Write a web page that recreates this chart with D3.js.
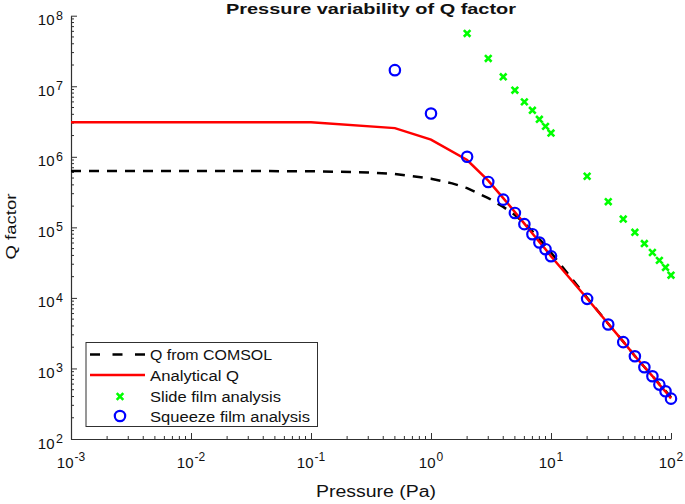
<!DOCTYPE html>
<html><head><meta charset="utf-8">
<script src="https://cdn.jsdelivr.net/npm/d3@7"></script>
<style>body{margin:0;background:#fff}svg{display:block}text{font-family:"Liberation Sans",Arial,sans-serif}</style>
</head><body><svg id="c" width="685" height="504"></svg>
<script>
const title = "Pressure variability of Q factor";
const xLabel = "Pressure (Pa)";
const yLabel = "Q factor";
const xTickExps = [-3, -2, -1, 0, 1, 2];
const yTickExps = [2, 3, 4, 5, 6, 7, 8];
const seriesNames = ["Q from COMSOL", "Analytical Q", "Slide film analysis", "Squeeze film analysis"];

const comsolP = [0.001, 0.01, 0.1, 0.3, 0.5, 0.7, 1, 1.5, 2, 3, 4, 5, 6, 7, 8, 9, 10, 20, 30, 40, 50, 60, 70, 80, 90, 100];
const comsolQ = [6.3e5, 6.3e5, 6.25e5, 6.0e5, 5.7e5, 5.3e5, 4.9e5, 4.2e5, 3.6e5, 2.6e5, 1.95e5, 1.5e5, 1.15e5, 8.8e4, 6.8e4, 5.5e4, 4.4e4, 1.0e4, 4.3e3, 2.4e3, 1.5e3, 1.05e3, 780, 600, 480, 390];

const analyticP = [0.001, 0.01, 0.1, 0.5, 1, 2, 3, 4, 5, 6, 7, 8, 9, 10, 20, 30, 40, 50, 60, 70, 80, 90, 100];
const analyticQ = [3.1e6, 3.1e6, 3.08e6, 2.55e6, 1.75e6, 9.0e5, 4.6e5, 2.6e5, 1.65e5, 1.13e5, 8.2e4, 6.2e4, 4.9e4, 3.9e4, 9.8e3, 4.3e3, 2.4e3, 1.5e3, 1.05e3, 780, 590, 470, 375];

const slideP = [2, 3, 4, 5, 6, 7, 8, 9, 10, 20, 30, 40, 50, 60, 70, 80, 90, 100];
const slideQ = [5.6e7, 2.48e7, 1.36e7, 8.8e6, 6.0e6, 4.56e6, 3.4e6, 2.7e6, 2.17e6, 5.3e5, 2.31e5, 1.31e5, 8.5e4, 5.9e4, 4.4e4, 3.4e4, 2.7e4, 2.1e4];

const squeezeP = [0.5, 1, 2, 3, 4, 5, 6, 7, 8, 9, 10, 20, 30, 40, 50, 60, 70, 80, 90, 100];
const squeezeQ = [1.69e7, 4.1e6, 1.0e6, 4.4e5, 2.47e5, 1.6e5, 1.11e5, 8.0e4, 6.1e4, 4.9e4, 3.9e4, 9.7e3, 4.2e3, 2.36e3, 1.49e3, 1.04e3, 775, 590, 474, 373];

const svg = d3.select("#c");
const L = 71, R = 671, T = 15.7, B = 439;
const x = d3.scaleLog().domain([1e-3, 1e2]).range([L, R]);
const y = d3.scaleLog().domain([1e2, 1e8]).range([B, T]);

const minorX = [], minorY = [];
for (let e = -3; e < 2; e++) for (let m = 2; m <= 9; m++) minorX.push(m * Math.pow(10, e));
for (let e = 2; e < 8; e++) for (let m = 2; m <= 9; m++) minorY.push(m * Math.pow(10, e));
const axCol = "#303030";
const txtCol = "#111";

const xAxis = d3.axisBottom(x).tickValues(xTickExps.map(e => Math.pow(10, e))).tickSizeInner(-6).tickSizeOuter(0).tickFormat("");
const xg = svg.append("g").attr("transform", `translate(0,${B})`).call(xAxis);
xg.selectAll("line").attr("stroke", axCol);
xg.select(".domain").attr("stroke", axCol).attr("stroke-width", 1.2);
xg.selectAll(".minor").data(minorX).enter().append("line").attr("class","minor")
  .attr("x1", d => x(d)).attr("x2", d => x(d)).attr("y1", 0).attr("y2", -3).attr("stroke", axCol);

const yAxis = d3.axisLeft(y).tickValues(yTickExps.map(e => Math.pow(10, e))).tickSizeInner(-6).tickSizeOuter(0).tickFormat("");
const yg = svg.append("g").attr("transform", `translate(${L},0)`).call(yAxis);
yg.selectAll("line").attr("stroke", axCol);
yg.select(".domain").attr("stroke", axCol).attr("stroke-width", 1.2);
yg.selectAll(".minor").data(minorY).enter().append("line").attr("class","minor")
  .attr("y1", d => y(d)).attr("y2", d => y(d)).attr("x1", 0).attr("x2", 3).attr("stroke", axCol);

// tick labels
xTickExps.forEach(e => {
  const t = svg.append("text").attr("x", x(Math.pow(10, e))).attr("y", 467.5).attr("text-anchor", "middle")
    .attr("font-size", 15).attr("fill", txtCol);
  t.append("tspan").text("10");
  t.append("tspan").attr("dy", -6.5).attr("dx", 1).attr("font-size", 12).text(String(e));
});
yTickExps.forEach(e => {
  const t = svg.append("text").attr("x", 63).attr("y", y(Math.pow(10, e)) + 9.5).attr("text-anchor", "end")
    .attr("font-size", 15).attr("fill", txtCol);
  t.append("tspan").text("10");
  t.append("tspan").attr("dy", -5.5).attr("dx", 1.5).attr("font-size", 12.5).text(String(e));
});

// labels
svg.append("text").attr("x", 371).attr("y", 14).attr("text-anchor", "middle").attr("font-size", 15)
  .attr("font-weight", "bold").attr("fill", txtCol)
  .attr("textLength", 290).attr("lengthAdjust", "spacingAndGlyphs").text(title);
svg.append("text").attr("x", 376).attr("y", 497).attr("text-anchor", "middle").attr("font-size", 16)
  .attr("fill", txtCol).attr("textLength", 120).attr("lengthAdjust", "spacingAndGlyphs").text(xLabel);
svg.append("text").attr("transform", "translate(15.5,226.5) rotate(-90)").attr("text-anchor", "middle")
  .attr("font-size", 15).attr("fill", txtCol)
  .attr("textLength", 66).attr("lengthAdjust", "spacingAndGlyphs").text(yLabel);

const line = d3.line().x(d => x(d[0])).y(d => y(d[1]));
svg.append("path").datum(comsolP.map((p, i) => [p, comsolQ[i]])).attr("d", line)
  .attr("fill", "none").attr("stroke", "#000").attr("stroke-width", 2.5).attr("stroke-dasharray", "10,8");
svg.append("path").datum(analyticP.map((p, i) => [p, analyticQ[i]])).attr("d", line)
  .attr("fill", "none").attr("stroke", "#ff0000").attr("stroke-width", 2.5);

const xs = 3.3;
const crossPath = (cx, cy) => `M${cx - xs},${cy - xs}L${cx + xs},${cy + xs}M${cx - xs},${cy + xs}L${cx + xs},${cy - xs}`;
svg.append("g").selectAll("path").data(slideP.map((p, i) => [p, slideQ[i]])).enter().append("path")
  .attr("d", d => crossPath(x(d[0]), y(d[1]))).attr("stroke", "#00ff00").attr("stroke-width", 2.6).attr("fill", "none");
svg.append("g").selectAll("circle").data(squeezeP.map((p, i) => [p, squeezeQ[i]])).enter().append("circle")
  .attr("cx", d => x(d[0])).attr("cy", d => y(d[1])).attr("r", 5.2)
  .attr("fill", "none").attr("stroke", "#0000ff").attr("stroke-width", 2.2);

// legend
const lg = svg.append("g");
lg.append("rect").attr("x", 86).attr("y", 342.5).attr("width", 231.5).attr("height", 84)
  .attr("fill", "#fff").attr("stroke", axCol).attr("stroke-width", 1);
const ly = [354.5, 375, 396.5, 416];
const lw = [122, 89, 131, 160];
lg.append("line").attr("x1", 90).attr("x2", 145).attr("y1", ly[0]).attr("y2", ly[0])
  .attr("stroke", "#000").attr("stroke-width", 2.5).attr("stroke-dasharray", "10,12.5");
lg.append("line").attr("x1", 90).attr("x2", 145).attr("y1", ly[1]).attr("y2", ly[1])
  .attr("stroke", "#ff0000").attr("stroke-width", 2.5);
lg.append("path").attr("d", crossPath(120, ly[2])).attr("stroke", "#00ff00").attr("stroke-width", 2.6);
lg.append("circle").attr("cx", 120).attr("cy", ly[3]).attr("r", 5.2).attr("fill", "none")
  .attr("stroke", "#0000ff").attr("stroke-width", 2.2);
seriesNames.forEach((n, i) => {
  lg.append("text").attr("x", 150).attr("y", ly[i] + 5.5).attr("font-size", 14).attr("fill", txtCol)
    .attr("textLength", lw[i]).attr("lengthAdjust", "spacingAndGlyphs").text(n);
});
</script></body></html>
